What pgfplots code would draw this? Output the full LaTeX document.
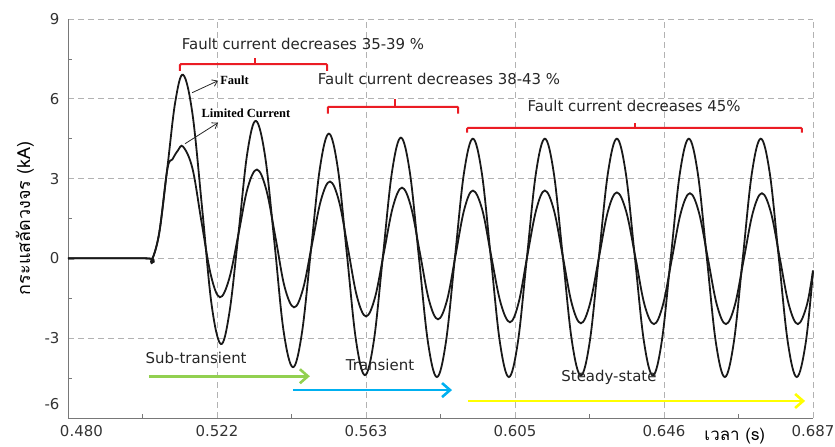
\documentclass[border=0pt]{standalone}
\usepackage{fontspec}
\setmainfont{DejaVu Sans}
\newfontfamily\thaifont[Script=Thai]{Loma}
\newfontfamily\serifb{Liberation Serif}
\usepackage{pgfplots}
\usepackage{pgfplotstable}
\pgfplotsset{compat=1.18}
\usetikzlibrary{arrows.meta}
\definecolor{brk}{RGB}{235,28,36}
\definecolor{subg}{RGB}{146,208,80}
\definecolor{trb}{RGB}{0,176,240}
\definecolor{ssy}{RGB}{255,255,0}
\definecolor{gridc}{RGB}{178,178,178}
\definecolor{axc}{RGB}{120,120,120}
\definecolor{curve}{RGB}{25,25,25}

% fault current (kA) vs time (s)
\pgfplotstableread{
t v
0.4800 0
0.5020 0
0.5031 -0.12
0.5053 0.92
0.5076 3.40
0.5098 5.88
0.5120 6.90
0.5146 5.42
0.5173 1.84
0.5199 -1.74
0.5225 -3.22
0.5249 -1.99
0.5274 0.98
0.5298 3.94
0.5322 5.17
0.5348 3.81
0.5374 0.54
0.5399 -2.73
0.5425 -4.09
0.5450 -2.80
0.5475 0.30
0.5500 3.40
0.5525 4.69
0.5550 3.36
0.5575 0.15
0.5600 -3.06
0.5625 -4.39
0.5650 -3.08
0.5675 0.08
0.5700 3.23
0.5725 4.54
0.5750 3.22
0.5775 0.04
0.5800 -3.14
0.5825 -4.46
0.5850 -3.15
0.5875 0.02
0.5900 3.19
0.5925 4.50
0.5950 3.19
0.5975 0.02
0.6000 -3.15
0.6025 -4.46
0.6050 -3.15
0.6075 0.02
0.6100 3.19
0.6125 4.50
0.6150 3.19
0.6175 0.05
0.6200 -3.10
0.6225 -4.40
0.6250 -3.10
0.6275 0.05
0.6300 3.19
0.6325 4.50
0.6350 3.19
0.6375 0.05
0.6400 -3.10
0.6425 -4.40
0.6450 -3.10
0.6475 0.05
0.6500 3.19
0.6525 4.50
0.6550 3.19
0.6575 0.02
0.6600 -3.15
0.6625 -4.46
0.6650 -3.15
0.6675 0.02
0.6700 3.19
0.6725 4.50
0.6750 3.19
0.6775 0.02
0.6800 -3.15
0.6825 -4.46
0.6850 -3.15
0.6870 -0.50
}\faultdata

% limited current (kA) vs time (s)
\pgfplotstableread{
t v
0.4800 0
0.5020 0
0.5031 -0.12
0.5053 0.92
0.5076 3.35
0.5090 3.72
0.5105 4.05
0.5120 4.20
0.5146 3.37
0.5171 1.37
0.5197 -0.63
0.5222 -1.46
0.5248 -0.76
0.5274 0.94
0.5299 2.64
0.5325 3.34
0.5351 2.58
0.5377 0.75
0.5402 -1.08
0.5428 -1.84
0.5453 -1.15
0.5478 0.53
0.5503 2.20
0.5528 2.89
0.5553 2.15
0.5578 0.36
0.5603 -1.44
0.5628 -2.18
0.5653 -1.47
0.5678 0.24
0.5703 1.95
0.5728 2.66
0.5753 1.94
0.5778 0.19
0.5803 -1.57
0.5828 -2.29
0.5853 -1.58
0.5877 0.13
0.5901 1.84
0.5925 2.55
0.5951 1.83
0.5976 0.08
0.6002 -1.67
0.6028 -2.40
0.6052 -1.67
0.6076 0.08
0.6101 1.83
0.6125 2.55
0.6150 1.82
0.6175 0.06
0.6200 -1.71
0.6225 -2.44
0.6250 -1.72
0.6275 0.02
0.6300 1.76
0.6325 2.48
0.6351 1.76
0.6377 0.01
0.6402 -1.75
0.6428 -2.47
0.6453 -1.75
0.6478 -0.01
0.6503 1.73
0.6528 2.45
0.6553 1.73
0.6578 -0.01
0.6603 -1.75
0.6628 -2.47
0.6653 -1.75
0.6678 -0.01
0.6703 1.73
0.6728 2.45
0.6753 1.73
0.6778 -0.01
0.6803 -1.75
0.6828 -2.47
0.6853 -1.75
0.6870 -0.45
}\limdata

\begin{document}
\begin{tikzpicture}[font=\fontsize{15}{18}\selectfont]
\begin{axis}[
 scale only axis, width=745bp, height=399bp,
 at={(0,0)}, anchor=south west,
 xmin=0.480, xmax=0.687, ymin=-6, ymax=9,
 axis x line*=bottom, axis y line*=left,
 axis line style={-, draw=axc, line width=0.9pt},
 xtick={0.480,0.5214,0.5628,0.6042,0.6456,0.687},
 xticklabels={\makebox[0pt][l]{\hspace*{-8bp}0.480},0.522,0.563,0.605,0.646,0.687},
 ytick={-6,-3,0,3,6,9},
 yticklabels={\smash{\raisebox{8.5bp}{-6}},-3,0,3,6,9},
 minor x tick num=1, minor y tick num=1,
 tick align=inside, major tick length=0pt, minor tick length=4bp,
 tick style={axc, line width=0.7pt},
 grid=major,
 major grid style={gridc, dash pattern=on 6bp off 4bp, line width=0.7pt},
 ticklabel style={text=black!80},
 xticklabel style={yshift=-4bp},
 yticklabel style={xshift=-5bp},
 xlabel={\thaifont\fontsize{17}{20}\selectfont เวลา (s)},
 xlabel style={at={(axis description cs:0.895,0)}, anchor=center, inner sep=0pt, yshift=-18bp},
 ylabel={\thaifont\fontsize{18}{22}\selectfont กระแสลัดวงจร (kA)},
 ylabel style={at={(axis description cs:-0.058,0.50)}, anchor=center},
 clip=false,
]
\addplot[curve, line width=1.8pt, smooth, tension=0.6] table[x=t,y=v] {\faultdata};
\addplot[curve, line width=1.8pt, smooth, tension=0.6] table[x=t,y=v] {\limdata};

% red brackets
\draw[brk, line width=2pt, rounded corners=1pt]
 (axis cs:0.5111,7.05) -- (axis cs:0.5111,7.30) -- (axis cs:0.5520,7.30) -- (axis cs:0.5520,7.05);
\draw[brk, line width=2pt] (axis cs:0.5320,7.30) -- (axis cs:0.5320,7.55);
\draw[brk, line width=2pt, rounded corners=1pt]
 (axis cs:0.5522,5.44) -- (axis cs:0.5522,5.70) -- (axis cs:0.5884,5.70) -- (axis cs:0.5884,5.44);
\draw[brk, line width=2pt] (axis cs:0.5708,5.70) -- (axis cs:0.5708,6.00);
\draw[brk, line width=2pt, rounded corners=1pt]
 (axis cs:0.5909,4.73) -- (axis cs:0.5909,4.91) -- (axis cs:0.6839,4.91) -- (axis cs:0.6839,4.73);
\draw[brk, line width=2pt] (axis cs:0.6375,4.91) -- (axis cs:0.6375,5.10);

\node[text=black!85] at (axis cs:0.5453,8.06) {Fault current decreases 35-39 \%};
\node[text=black!85] at (axis cs:0.5831,6.75) {Fault current decreases 38-43 \%};
\node[text=black!85] at (axis cs:0.6373,5.74) {Fault current decreases 45\%};

% curve labels
\draw[black!85, line width=0.8pt, -{Straight Barb[length=5bp,width=7bp]}]
 (axis cs:0.5145,6.23) -- (axis cs:0.5217,6.68);
\node[anchor=west, inner sep=1bp, font=\serifb\bfseries\fontsize{12.5}{14}\selectfont] at (axis cs:0.5220,6.68) {Fault};
\draw[black!85, line width=0.8pt, -{Straight Barb[length=5bp,width=7bp]}]
 (axis cs:0.5125,4.31) -- (axis cs:0.5217,5.10);
\node[anchor=west, inner sep=1bp, font=\serifb\bfseries\fontsize{12.5}{14}\selectfont] at (axis cs:0.5168,5.44) {Limited Current};

% stage arrows
\draw[subg, line width=2.6pt, -{Straight Barb[length=8bp,width=14bp]}]
 (axis cs:0.5025,-4.43) -- (axis cs:0.5472,-4.43);
\draw[trb, line width=2.6pt, -{Straight Barb[length=8bp,width=14bp]}]
 (axis cs:0.5425,-4.95) -- (axis cs:0.5867,-4.95);
\draw[ssy, line width=2.6pt, -{Straight Barb[length=8bp,width=14bp]}]
 (axis cs:0.5911,-5.36) -- (axis cs:0.6848,-5.36);
\node[text=black!85] at (axis cs:0.5156,-3.75) {Sub-transient};
\node[text=black!85] at (axis cs:0.5667,-4.01) {Transient};
\node[text=black!85] at (axis cs:0.6303,-4.46) {Steady-state};
\end{axis}
\pgfresetboundingbox
\path[use as bounding box] (-68bp,-29bp) rectangle (767bp,418bp);
\end{tikzpicture}
\end{document}
